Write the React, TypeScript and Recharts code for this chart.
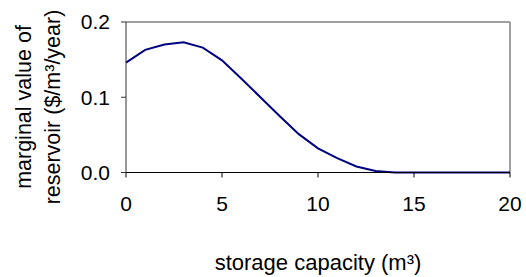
import { Label, Line, LineChart, ReferenceLine, XAxis, YAxis } from 'recharts';

// storage capacity (m3)
const capacity = [0, 1, 2, 3, 4, 5, 6, 7, 8, 9, 10, 11, 12, 13, 14, 15, 16, 17, 18, 19, 20];
// marginal value of reservoir ($/m3/year)
const marginalValue = [
  0.146, 0.163, 0.17, 0.173, 0.166, 0.149, 0.125, 0.1, 0.075, 0.051, 0.032, 0.019, 0.008, 0.002, 0, 0, 0, 0, 0, 0, 0,
];
const xTicks = [0, 5, 10, 15, 20];
const yTicks = [0, 0.1, 0.2];

const data = capacity.map((c, i) => ({ capacity: c, value: marginalValue[i] }));

const font = '"Liberation Sans", Arial, sans-serif';

const YLabel = () => (
  <g fontFamily={font} fontSize={21.5} fill="#000">
    <text x={31} y={107} transform="rotate(-90, 31, 107)" textAnchor="middle">
      marginal value of
    </text>
    <text x={60} y={107} transform="rotate(-90, 60, 107)" textAnchor="middle">
      reservoir ($/m³/year)
    </text>
  </g>
);

export default function App() {
  return (
    <div style={{ position: 'absolute', left: 0, top: 0, background: '#fff' }}>
      <LineChart
        width={526}
        height={277}
        data={data}
        margin={{ top: 22, right: 16, left: 0, bottom: 0 }}
      >
        <XAxis
          dataKey="capacity"
          type="number"
          domain={[0, 20]}
          ticks={xTicks}
          tickSize={5}
          tickMargin={19}
          height={104.5}
          stroke="#000"
          tick={{ fill: '#000', fontSize: 21, fontFamily: font }}
        >
          <Label
            value="storage capacity (m³)"
            position="insideBottom"
            offset={7}
            style={{ fill: '#000', fontSize: 22, fontFamily: font }}
          />
        </XAxis>
        <YAxis
          type="number"
          domain={[0, 0.2]}
          ticks={yTicks}
          tickFormatter={(v: number) => v.toFixed(1)}
          tickSize={5}
          tickMargin={11}
          width={126}
          stroke="#333"
          tick={{ fill: '#000', fontSize: 21, fontFamily: font }}
        >
          <Label content={<YLabel />} />
        </YAxis>
        <ReferenceLine y={0.2} stroke="#808080" strokeWidth={1.5} />
        <ReferenceLine x={20} stroke="#808080" strokeWidth={1.5} />
        <Line
          dataKey="value"
          type="linear"
          stroke="#000080"
          strokeWidth={2}
          dot={false}
          isAnimationActive={false}
        />
      </LineChart>
    </div>
  );
}
